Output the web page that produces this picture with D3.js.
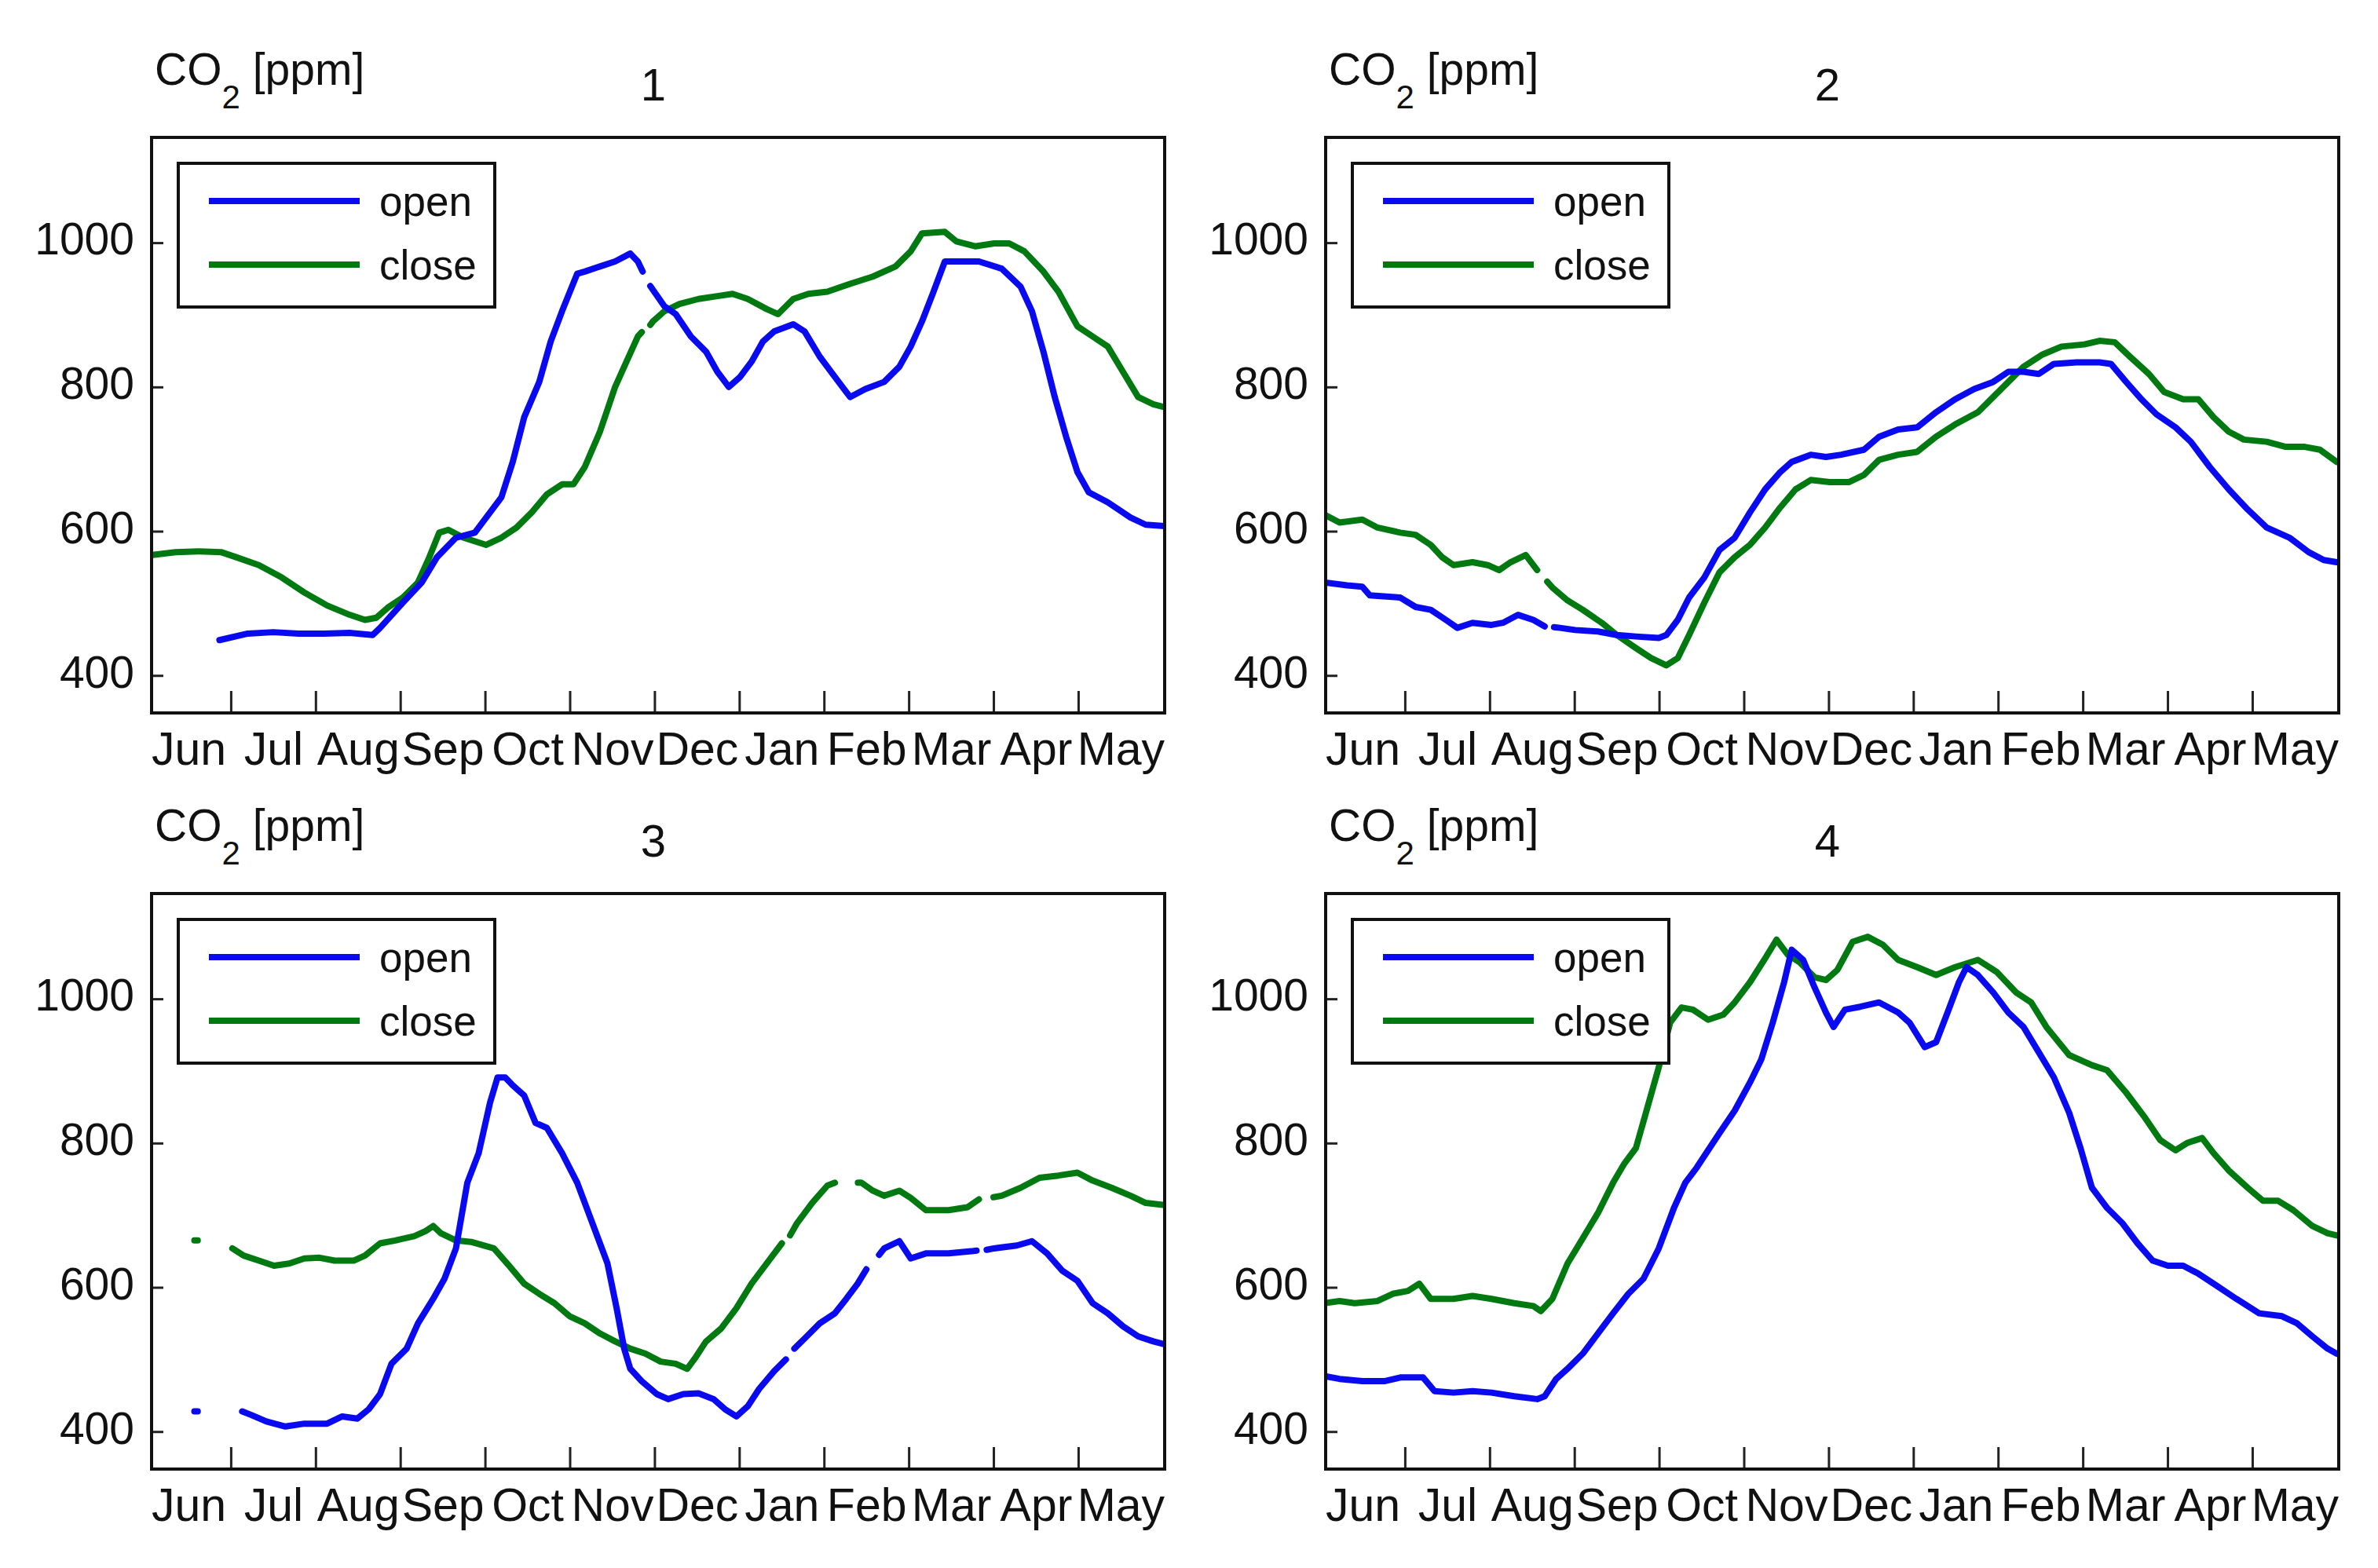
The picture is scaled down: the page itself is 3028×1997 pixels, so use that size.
<!DOCTYPE html>
<html>
<head>
<meta charset="utf-8">
<script src="https://cdn.jsdelivr.net/npm/d3@7"></script>
<style>
  html, body { margin: 0; padding: 0; background: #fff; }
  svg { display: block; }
  text { font-family: "Liberation Sans", Arial, Helvetica, sans-serif; fill: #111; }
</style>
</head>
<body>
<svg id="chart" width="3028" height="1997"></svg>
<script>
// ---------------- data ----------------
const months = ["Jun","Jul","Aug","Sep","Oct","Nov","Dec","Jan","Feb","Mar","Apr","May"];
const monthBoundaries = [1,2,3,4,5,6,7,8,9,10,11];
const yTicks = [400, 600, 800, 1000];
const panelTitles = ["1", "2", "3", "4"];
const seriesNames = ["open", "close"];
// x = month index (0 = 1 Jun, 1 = 1 Jul, ... 12 = 1 Jun), y = CO2 ppm; null = gap
const p1Open = [[0.866,449],[1.2,458],[1.5,460],[1.8,458],[2.1,458],[2.4,459],[2.673,456],[2.762,466],[3.030,501],[3.254,529],[3.433,564],[3.657,591],[3.880,598],[4.014,619],[4.193,647],[4.327,696],[4.462,758],[4.640,807],[4.775,863],[4.909,905],[5.088,957],[5.177,960],[5.356,967],[5.535,974],[5.714,985],[5.803,974],[5.86,960],[5.90,null],[5.95,940],[6.116,912],[6.250,901],[6.429,870],[6.608,849],[6.742,821],[6.877,800],[7.011,814],[7.145,835],[7.279,863],[7.413,877],[7.637,887],[7.771,877],[7.950,842],[8.084,821],[8.218,800],[8.308,786],[8.487,797],[8.710,807],[8.889,828],[9.023,856],[9.157,891],[9.292,932],[9.426,974],[9.560,974],[9.828,974],[10.097,964],[10.320,939],[10.454,905],[10.589,849],[10.723,786],[10.857,731],[10.991,682],[11.125,654],[11.349,640],[11.617,619],[11.796,609],[12.020,607]];
const p1Close = [[0.079,567],[0.347,571],[0.615,572],[0.884,571],[1.063,564],[1.331,553],[1.599,536],[1.868,515],[2.136,497],[2.404,484],[2.583,477],[2.717,480],[2.852,494],[3.030,508],[3.209,529],[3.343,564],[3.460,598],[3.567,602],[3.746,591],[4.014,581],[4.193,591],[4.372,605],[4.551,626],[4.730,651],[4.909,665],[5.043,665],[5.177,689],[5.356,738],[5.535,800],[5.669,835],[5.803,870],[5.85,876],[5.90,null],[5.95,886],[5.982,891],[6.116,905],[6.295,915],[6.519,922],[6.742,926],[6.921,929],[7.100,922],[7.324,908],[7.458,901],[7.637,922],[7.816,929],[8.039,932],[8.308,943],[8.576,953],[8.844,967],[9.023,988],[9.157,1013],[9.426,1015],[9.560,1002],[9.784,995],[10.007,999],[10.186,999],[10.365,988],[10.589,960],[10.767,932],[10.991,884],[11.170,870],[11.349,856],[11.528,821],[11.707,786],[11.886,776],[12.020,772]];
const p2Open = [[0.049,529],[0.318,525],[0.498,523],[0.587,511],[0.946,508],[1.126,495],[1.305,491],[1.484,477],[1.619,466],[1.798,473],[2.022,470],[2.157,473],[2.336,484],[2.516,477],[2.650,468],[2.70,null],[2.76,467],[2.830,466],[3.009,463],[3.278,461],[3.502,456],[3.726,454],[3.996,452],[4.085,456],[4.220,477],[4.354,508],[4.534,536],[4.713,574],[4.892,591],[5.072,626],[5.251,658],[5.430,682],[5.565,696],[5.789,706],[5.969,703],[6.148,706],[6.417,713],[6.596,731],[6.821,741],[7.045,744],[7.269,765],[7.493,783],[7.717,797],[7.942,807],[8.121,821],[8.300,821],[8.480,818],[8.659,832],[8.928,834],[9.197,834],[9.332,832],[9.511,807],[9.691,783],[9.870,762],[10.094,744],[10.274,724],[10.498,689],[10.722,658],[10.946,630],[11.170,605],[11.439,591],[11.664,571],[11.843,560],[11.996,557]];
const p2Close = [[0.049,623],[0.229,612],[0.498,616],[0.677,605],[0.946,598],[1.126,595],[1.305,581],[1.439,564],[1.574,553],[1.798,557],[1.978,553],[2.112,546],[2.247,557],[2.426,567],[2.561,546],[2.62,null],[2.68,530],[2.740,522],[2.919,504],[3.099,491],[3.323,473],[3.502,456],[3.726,438],[3.906,424],[4.085,414],[4.220,424],[4.354,456],[4.534,501],[4.713,543],[4.892,564],[5.072,581],[5.251,605],[5.430,633],[5.610,658],[5.789,671],[6.013,668],[6.238,668],[6.417,678],[6.596,699],[6.821,706],[7.045,710],[7.269,731],[7.493,748],[7.762,765],[7.942,786],[8.121,807],[8.300,828],[8.525,845],[8.749,856],[9.018,859],[9.197,864],[9.377,862],[9.556,842],[9.780,818],[9.960,793],[10.184,783],[10.363,783],[10.543,758],[10.722,738],[10.901,727],[11.170,724],[11.395,717],[11.619,717],[11.798,713],[11.996,696]];
const p3Open = [[0.57,428],[0.61,428],[0.65,null],[1.134,428],[1.242,423],[1.420,414],[1.644,407],[1.868,411],[2.136,411],[2.315,421],[2.494,418],[2.628,431],[2.762,452],[2.896,494],[3.075,515],[3.209,550],[3.388,584],[3.522,612],[3.657,654],[3.791,745],[3.925,786],[4.059,856],[4.148,891],[4.238,891],[4.327,880],[4.462,866],[4.596,828],[4.730,821],[4.909,786],[5.088,745],[5.222,703],[5.356,661],[5.445,633],[5.553,571],[5.642,515],[5.714,487],[5.848,470],[6.027,452],[6.161,445],[6.340,452],[6.519,453],[6.698,445],[6.832,431],[6.966,421],[7.100,435],[7.234,459],[7.413,484],[7.55,500],[7.60,null],[7.65,515],[7.771,529],[7.950,550],[8.129,564],[8.263,584],[8.397,605],[8.50,625],[8.55,null],[8.65,645],[8.710,654],[8.889,664],[9.023,640],[9.202,647],[9.470,647],[9.739,650],[9.80,651],[9.85,null],[9.92,652],[10.007,654],[10.276,658],[10.454,664],[10.633,647],[10.812,623],[10.991,609],[11.170,578],[11.349,564],[11.528,546],[11.707,532],[11.886,525],[12.020,521]];
const p3Close = [[0.57,665],[0.61,665],[0.65,null],[1.018,654],[1.152,644],[1.331,637],[1.510,630],[1.689,633],[1.868,640],[2.047,641],[2.225,637],[2.449,637],[2.583,644],[2.762,661],[2.941,665],[3.165,671],[3.299,678],[3.388,685],[3.478,675],[3.657,665],[3.835,663],[4.104,654],[4.283,630],[4.462,605],[4.640,591],[4.819,578],[4.998,560],[5.177,550],[5.356,536],[5.535,525],[5.714,515],[5.893,508],[6.072,497],[6.250,494],[6.385,487],[6.474,501],[6.608,525],[6.787,543],[6.966,571],[7.145,605],[7.324,633],[7.503,661],[7.55,null],[7.60,672],[7.682,689],[7.860,717],[8.039,741],[8.129,745],[8.18,null],[8.40,745],[8.442,745],[8.576,734],[8.710,727],[8.889,734],[9.023,724],[9.202,707],[9.470,707],[9.694,711],[9.828,722],[9.88,null],[10.0,725],[10.097,727],[10.320,738],[10.544,752],[10.767,755],[10.991,759],[11.170,748],[11.394,738],[11.617,727],[11.796,717],[12.020,714]];
const p4Open = [[0.049,477],[0.229,473],[0.498,470],[0.767,470],[0.946,475],[1.215,475],[1.350,456],[1.574,454],[1.798,456],[2.022,454],[2.291,449],[2.561,445],[2.650,449],[2.785,473],[2.919,487],[3.099,508],[3.278,536],[3.457,564],[3.637,591],[3.816,612],[3.996,654],[4.175,710],[4.309,745],[4.444,766],[4.578,790],[4.713,814],[4.892,845],[5.072,884],[5.206,916],[5.341,967],[5.475,1023],[5.565,1068],[5.700,1054],[5.834,1016],[5.969,981],[6.058,961],[6.193,985],[6.372,989],[6.596,995],[6.821,981],[6.955,967],[7.135,933],[7.269,940],[7.404,981],[7.538,1023],[7.628,1044],[7.762,1033],[7.942,1009],[8.121,981],[8.300,961],[8.480,926],[8.659,891],[8.839,842],[8.973,793],[9.108,738],[9.287,710],[9.466,689],[9.646,661],[9.825,637],[10.004,630],[10.184,630],[10.363,619],[10.543,605],[10.812,584],[11.081,564],[11.350,560],[11.529,550],[11.709,532],[11.888,515],[11.996,508]];
const p4Close = [[0.049,578],[0.229,581],[0.408,578],[0.677,581],[0.857,591],[1.036,595],[1.170,605],[1.305,584],[1.574,584],[1.798,588],[2.022,584],[2.291,578],[2.516,574],[2.605,567],[2.740,584],[2.919,633],[3.099,668],[3.278,703],[3.457,745],[3.592,772],[3.726,793],[3.861,849],[3.996,905],[4.130,967],[4.265,988],[4.399,985],[4.578,971],[4.758,978],[4.892,995],[5.072,1023],[5.251,1056],[5.386,1082],[5.520,1061],[5.655,1051],[5.834,1030],[5.969,1026],[6.103,1040],[6.283,1079],[6.462,1086],[6.641,1075],[6.821,1054],[7.045,1044],[7.269,1033],[7.493,1044],[7.762,1054],[7.987,1037],[8.211,1009],[8.390,995],[8.570,961],[8.839,922],[9.108,908],[9.287,901],[9.511,870],[9.735,835],[9.915,804],[10.094,790],[10.229,800],[10.408,807],[10.543,786],[10.722,762],[10.946,738],[11.126,720],[11.305,720],[11.484,707],[11.709,685],[11.888,675],[11.996,672]];

const panels = [
  { title: panelTitles[0], open: p1Open, close: p1Close, col: 0, row: 0 },
  { title: panelTitles[1], open: p2Open, close: p2Close, col: 1, row: 0 },
  { title: panelTitles[2], open: p3Open, close: p3Close, col: 0, row: 1 },
  { title: panelTitles[3], open: p4Open, close: p4Close, col: 1, row: 1 }
];

// ---------------- layout ----------------
const colX = [193, 1688];
const rowY = [175, 1138];
const W = 1290, H = 733;
const colors = { open: "#0a0af0", close: "#007a10" };
const FONT = 57;

const svg = d3.select("#chart");
svg.append("rect").attr("width", 3028).attr("height", 1997).attr("fill", "#fff");

const x = d3.scaleLinear().domain([0.065, 12.02]).range([0, W]);
const y = d3.scaleLinear().domain([348, 1146]).range([H, 0]);

const line = d3.line()
  .defined(d => d[1] !== null)
  .x(d => x(d[0]))
  .y(d => y(d[1]));

panels.forEach((p, i) => {
  const g = svg.append("g").attr("transform", `translate(${colX[p.col]},${rowY[p.row]})`);

  const clipId = "clip" + i;
  g.append("clipPath").attr("id", clipId)
    .append("rect").attr("x", 0).attr("y", 0).attr("width", W).attr("height", H);

  // x ticks (month boundaries)
  const xTickAxis = d3.axisBottom(x).tickValues(monthBoundaries).tickSize(-28).tickFormat("");
  const gxt = g.append("g").attr("transform", `translate(0,${H})`).call(xTickAxis);
  gxt.select(".domain").remove();
  gxt.selectAll(".tick line").attr("stroke", "#222").attr("stroke-width", 3);

  // x labels (month centres)
  const xLabAxis = d3.axisBottom(x).tickValues(months.map((m, k) => k + 0.5))
    .tickSize(0).tickFormat((d) => months[Math.floor(d)]);
  const gxl = g.append("g").attr("transform", `translate(0,${H})`).call(xLabAxis);
  gxl.select(".domain").remove();
  gxl.selectAll(".tick text")
    .attr("y", 66).attr("dy", null)
    .attr("font-size", 59)
    .attr("font-family", null)
    .style("fill", "#111");

  // y axis
  const yAxis = d3.axisLeft(y).tickValues(yTicks).tickSize(-15).tickPadding(22).tickFormat(d3.format("d"));
  const gy = g.append("g").call(yAxis);
  gy.select(".domain").remove();
  gy.selectAll(".tick line").attr("stroke", "#222").attr("stroke-width", 3);
  gy.selectAll(".tick text")
    .attr("dy", "0.26em")
    .attr("font-size", FONT)
    .attr("font-family", null)
    .style("fill", "#111");

  // data lines
  const lg = g.append("g").attr("clip-path", `url(#${clipId})`);
  [["close", p.close], ["open", p.open]].forEach(([k, data]) => {
    lg.append("path")
      .datum(data)
      .attr("d", line)
      .attr("fill", "none")
      .attr("stroke", colors[k])
      .attr("stroke-width", 8)
      .attr("stroke-linejoin", "round")
      .attr("stroke-linecap", "round");
  });

  // frame
  g.append("rect").attr("x", 0).attr("y", 0).attr("width", W).attr("height", H)
    .attr("fill", "none").attr("stroke", "#111").attr("stroke-width", 4);

  // legend
  const leg = g.append("g").attr("transform", "translate(34,33)");
  leg.append("rect").attr("width", 403).attr("height", 183)
    .attr("fill", "#fff").attr("stroke", "#111").attr("stroke-width", 4);
  seriesNames.forEach((name, k) => {
    const ly = 48 + k * 81;
    leg.append("line").attr("x1", 39).attr("x2", 231).attr("y1", ly).attr("y2", ly)
      .attr("stroke", colors[name]).attr("stroke-width", 8);
    leg.append("text").attr("x", 256).attr("y", ly + 19)
      .attr("font-size", 53).text(name);
  });

  // y label
  const lab = g.append("text").attr("x", 4).attr("y", -67).attr("font-size", FONT);
  lab.append("tspan").text("CO");
  lab.append("tspan").attr("dy", 30).attr("font-size", 42).text("2");
  lab.append("tspan").attr("dy", -30).text(" [ppm]");

  // title
  g.append("text").attr("x", W / 2 - 6).attr("y", -47)
    .attr("text-anchor", "middle").attr("font-size", 58).text(p.title);
});
</script>
</body>
</html>
